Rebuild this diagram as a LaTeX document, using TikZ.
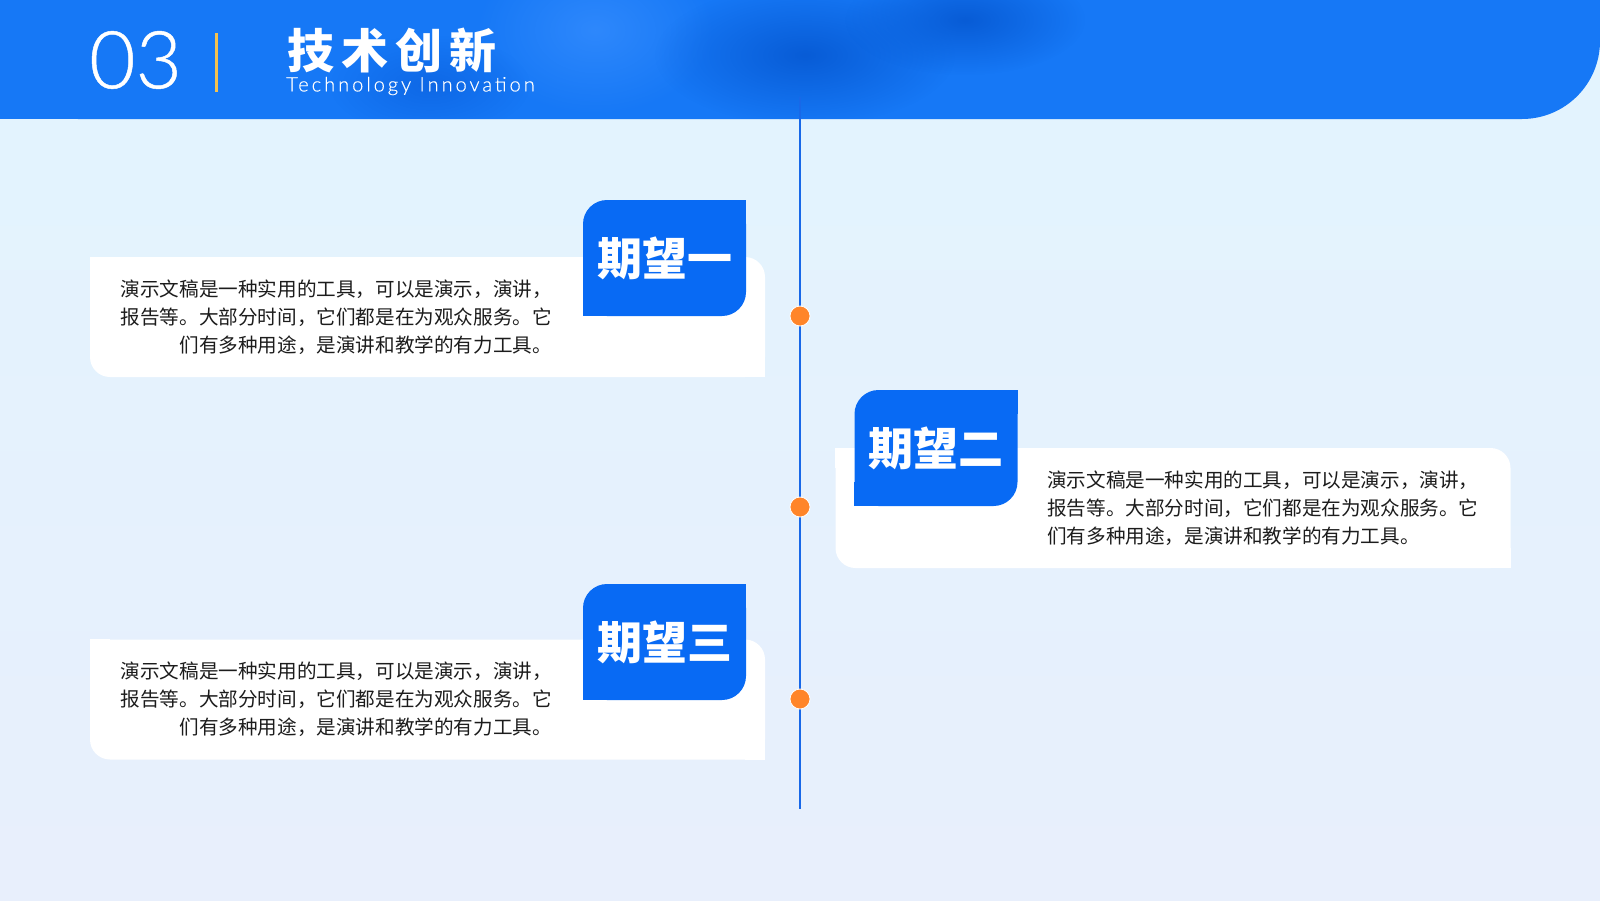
\documentclass[tikz,border=0pt]{standalone}
\usepackage{fontspec}
\setmainfont{Noto Sans CJK SC}
\newfontfamily\thinfont{Lato Light}[FakeBold=0.6]
\newfontfamily\subfont{Lato Light}[FakeBold=0.4, LetterSpace=15]
\usetikzlibrary{positioning,calc,fadings}
\definecolor{hdrblue}{RGB}{22,120,246}
\definecolor{hdrlight}{RGB}{46,136,252}
\definecolor{hdrdark}{RGB}{8,92,214}
\definecolor{hdrmid}{RGB}{14,104,230}
\definecolor{tagblue}{RGB}{8,106,244}
\definecolor{lineblue}{RGB}{24,104,232}
\definecolor{dotorange}{RGB}{255,133,41}
\definecolor{bargold}{RGB}{244,194,79}
\definecolor{bgtop}{RGB}{226,244,254}
\definecolor{bgbot}{RGB}{232,239,252}
\definecolor{bodytext}{RGB}{28,28,28}
\tikzfading[name=softblob, inner color=transparent!0, outer color=transparent!100]

\begin{document}
\begin{tikzpicture}[x=1pt,y=-1pt,
    card/.style={fill=white, rounded corners=20pt, minimum width=675pt, minimum height=120pt, inner sep=0pt},
    tag/.style={fill=tagblue, rounded corners=24pt, minimum width=163pt, minimum height=116pt, inner sep=0pt, text=white, font=\bfseries\fontsize{45}{50}\selectfont},
    blurb/.style={text=bodytext, font=\fontsize{19.6}{28}\selectfont, inner sep=0pt},
    tldot/.style={circle, fill=dotorange, draw=white, line width=0.8pt, minimum size=20pt, inner sep=0pt}]

    % background and header band
    \useasboundingbox (0,0) rectangle (1600,900);
    \shade[top color=bgtop, bottom color=bgbot] (0,0) rectangle (1600,900);
    \fill[hdrblue, rounded corners=78pt] (0,-100) rectangle (1600,119);
    \fill[hdrblue] (0,40) rectangle (100,119);
    \begin{scope}
        \clip (0,0) rectangle (1520,118.5);
        \fill[hdrlight, path fading=softblob] (595,30) ellipse (120 and 85);
        \fill[hdrdark, path fading=softblob] (805,55) ellipse (150 and 70);
        \fill[hdrdark, path fading=softblob] (965,20) ellipse (120 and 55);
        \fill[hdrmid, path fading=softblob] (430,85) ellipse (100 and 50);
    \end{scope}

    % header texts
    \node[anchor=west, inner sep=0pt, text=white, font=\thinfont\fontsize{80}{80}\selectfont] (num) at (89,60) {03};
    \draw[bargold, line width=3pt] (216,33) -- (216,92);
    \node[anchor=west, inner sep=0pt, text=white, font=\bfseries\fontsize{47}{47}\selectfont] (title) at (287,50.5) {技\kern7pt 术\kern7pt 创\kern7pt 新};
    \node[anchor=west, inner sep=0pt, text=white, font=\subfont\fontsize{20}{20}\selectfont] (subtitle) at (286,86) {Technology Innovation};

    % timeline
    \coordinate (tltop) at (800,97);
    \coordinate (tlbot) at (800,809);
    \draw[lineblue, line width=2pt] (tltop) -- (tlbot);

    % first card
    \node[card] (card1) at (427.5,317) {};
    \fill[white] (card1.north west) rectangle +(20,20);
    \fill[white] (card1.south east) rectangle +(-20,-20);
    \node[tag] (tag1) at (664.5,258) {期望一};
    \fill[tagblue] (tag1.north east) rectangle +(-24,24);
    \fill[tagblue] (tag1.south west) rectangle +(24,-24);
    \node[blurb, anchor=east, align=right] (text1) at (552,317) {演示文稿是一种实用的工具，可以是演示，演讲，\\报告等。大部分时间，它们都是在为观众服务。它\\们有多种用途，是演讲和教学的有力工具。};

    % second card
    \node[card] (card2) at (1173,508) {};
    \fill[white] (card2.north west) rectangle +(20,20);
    \fill[white] (card2.south east) rectangle +(-20,-20);
    \node[tag] (tag2) at (936,448) {期望二};
    \fill[tagblue] (tag2.north east) rectangle +(-24,24);
    \fill[tagblue] (tag2.south west) rectangle +(24,-24);
    \node[blurb, anchor=west, align=left] (text2) at (1047,508) {演示文稿是一种实用的工具，可以是演示，演讲，\\报告等。大部分时间，它们都是在为观众服务。它\\们有多种用途，是演讲和教学的有力工具。};

    % third card
    \node[card] (card3) at (427.5,699.5) {};
    \fill[white] (card3.north west) rectangle +(20,20);
    \fill[white] (card3.south east) rectangle +(-20,-20);
    \node[tag] (tag3) at (664.5,642) {期望三};
    \fill[tagblue] (tag3.north east) rectangle +(-24,24);
    \fill[tagblue] (tag3.south west) rectangle +(24,-24);
    \node[blurb, anchor=east, align=right] (text3) at (552,699.5) {演示文稿是一种实用的工具，可以是演示，演讲，\\报告等。大部分时间，它们都是在为观众服务。它\\们有多种用途，是演讲和教学的有力工具。};

    % dots on the timeline
    \node[tldot] (dot1) at (800,316) {};
    \node[tldot] (dot2) at (800,507) {};
    \node[tldot] (dot3) at (800,699) {};
\end{tikzpicture}
\end{document}
